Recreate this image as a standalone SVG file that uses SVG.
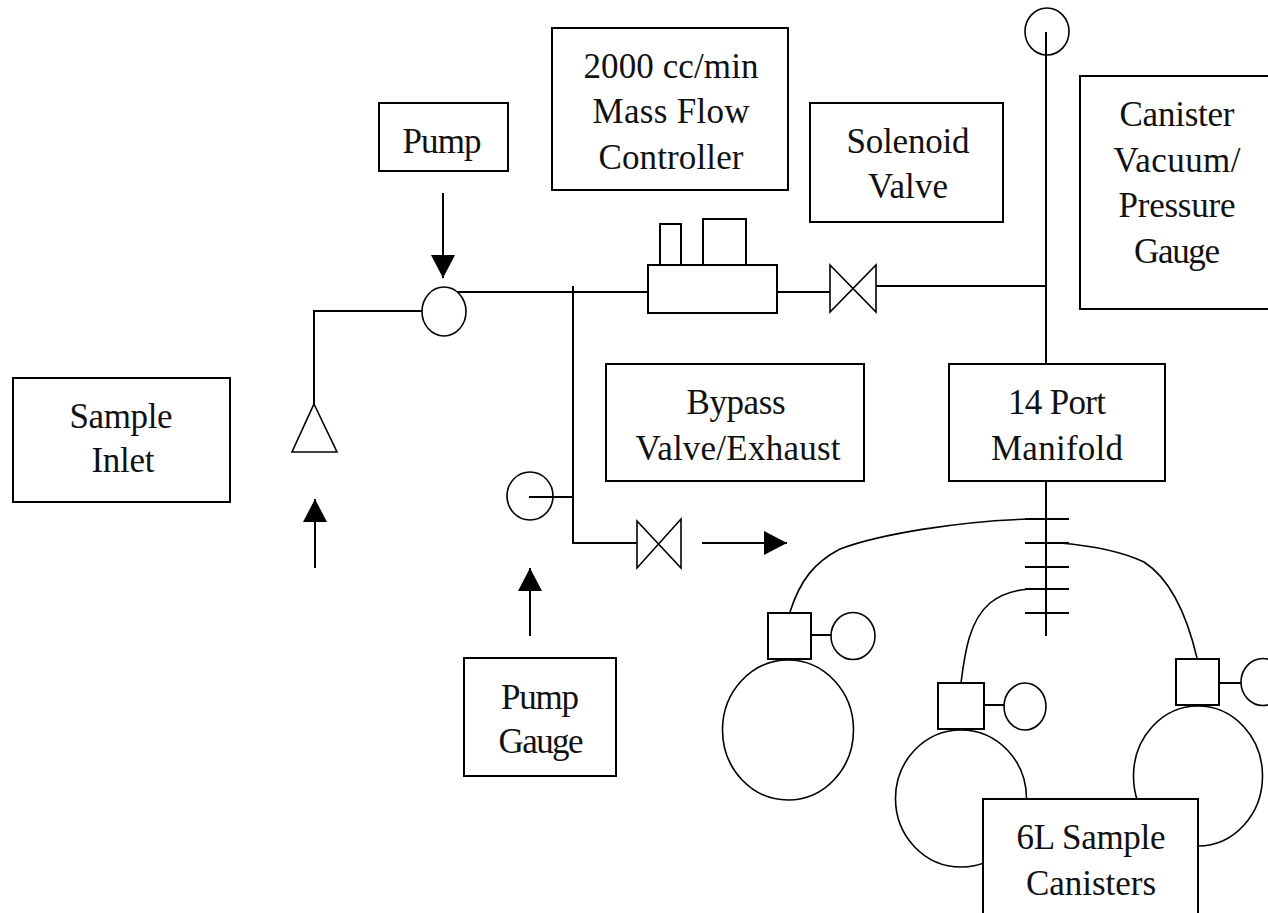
<svg xmlns="http://www.w3.org/2000/svg" width="1268" height="913" viewBox="0 0 1268 913">
<style>
.b{fill:#fff;stroke:#000;stroke-width:2}
.c{fill:#fff;stroke:#000;stroke-width:1.6}
.o{fill:none;stroke:#000;stroke-width:1.6}
.l{fill:none;stroke:#000;stroke-width:2}
.t{font-family:"Liberation Serif",serif;font-size:35px;fill:#111;text-anchor:middle}
</style>
<defs><marker id="a" markerUnits="userSpaceOnUse" markerWidth="24" markerHeight="24" refX="23" refY="12" orient="auto"><path d="M0 0L23 12L0 24Z" fill="#000"/></marker></defs>
<rect width="1268" height="913" fill="#fff"/>
<g id="connectors">
<path class="l" d="M1046 32V364"/>
<path class="l" d="M314 404V311H422"/>
<path class="l" d="M457 292H648"/>
<path class="l" d="M573 286V543H637"/>
<path class="l" d="M529 497H573"/>
<path class="l" d="M777 292H830"/>
<path class="l" d="M876 286H1046"/>
<path class="l" d="M1046 481V636"/>
<path class="l" d="M1025 519H1069M1025 543H1069M1025 567H1069M1025 589H1069M1025 613H1069"/>
<path class="o" d="M790 612C800 580 815 562 840 549C880 534 960 521 1030 519"/>
<path class="o" d="M961 683C965 650 970 620 990 603C1000 595 1012 590 1030 589"/>
<path class="o" d="M1060 543C1095 546 1125 553 1144 562C1172 580 1188 620 1197 658"/>
<path class="l" d="M811 635H831M984 705H1004M1219 683H1241"/>
<path class="l" marker-end="url(#a)" d="M443 193V278"/>
<path class="l" marker-end="url(#a)" d="M315 568V499"/>
<path class="l" marker-end="url(#a)" d="M530 636V568"/>
<path class="l" marker-end="url(#a)" d="M702 543H787"/>
</g>
<g id="pump-label"><rect class="b" x="379" y="103" width="129" height="68"/><text class="t" x="442" y="153" textLength="79">Pump</text></g>
<g id="mfc-label"><rect class="b" x="552" y="28" width="236" height="162"/><text class="t" x="671" y="78" textLength="175">2000 cc/min</text><text class="t" x="671" y="123" textLength="157">Mass Flow</text><text class="t" x="671" y="169" textLength="145">Controller</text></g>
<g id="solenoid-label"><rect class="b" x="810" y="103" width="193" height="119"/><text class="t" x="908" y="153" textLength="123">Solenoid</text><text class="t" x="908" y="198" textLength="80">Valve</text></g>
<g id="gauge-label"><rect class="b" x="1080" y="76" width="191" height="233"/><text class="t" x="1177" y="126" textLength="115">Canister</text><text class="t" x="1177" y="172" textLength="127">Vacuum/</text><text class="t" x="1177" y="217" textLength="117">Pressure</text><text class="t" x="1177" y="263" textLength="86">Gauge</text></g>
<g id="inlet-label"><rect class="b" x="13" y="378" width="217" height="124"/><text class="t" x="121" y="428" textLength="103">Sample</text><text class="t" x="123" y="472" textLength="63">Inlet</text></g>
<g id="bypass-label"><rect class="b" x="606" y="364" width="258" height="117"/><text class="t" x="736" y="414" textLength="99">Bypass</text><text class="t" x="738" y="460" textLength="205">Valve/Exhaust</text></g>
<g id="manifold-label"><rect class="b" x="949" y="364" width="216" height="117"/><text class="t" x="1057" y="414" textLength="98">14 Port</text><text class="t" x="1057" y="460" textLength="132">Manifold</text></g>
<g id="pump-gauge-label"><rect class="b" x="464" y="658" width="152" height="118"/><text class="t" x="540" y="709" textLength="78">Pump</text><text class="t" x="541" y="753" textLength="85">Gauge</text></g>
<g id="top-gauge"><ellipse class="o" cx="1047" cy="31.500" rx="22" ry="23.500"/></g>
<g id="pump-node"><ellipse class="c" cx="444" cy="311.500" rx="22" ry="24.500"/></g>
<g id="pump-gauge"><ellipse class="o" cx="530" cy="496" rx="23" ry="24"/></g>
<g id="filter"><path class="c" d="M314 404L337 452H292Z"/></g>
<g id="mfc"><rect class="b" x="660" y="224" width="21" height="41"/><rect class="b" x="703" y="219" width="43" height="46"/><rect class="b" x="648" y="265" width="129" height="48"/></g>
<g id="solenoid-valve"><path class="c" d="M830 265L876 312V265L830 312Z"/></g>
<g id="bypass-valve"><path class="c" d="M637 521L681 568V519L637 568Z"/></g>
<g id="canister-1"><ellipse class="c" cx="788" cy="730" rx="65.500" ry="70"/><rect class="b" x="768" y="613" width="43" height="46"/><ellipse class="c" cx="853" cy="636" rx="22" ry="23.500"/></g>
<g id="canister-2"><ellipse class="c" cx="961" cy="798.500" rx="65.500" ry="68.500"/><rect class="b" x="938" y="683" width="46" height="46"/><ellipse class="c" cx="1025" cy="706.500" rx="21" ry="23.500"/></g>
<g id="canister-3"><ellipse class="c" cx="1198" cy="776" rx="64.500" ry="70"/><rect class="b" x="1176" y="659" width="43" height="46"/><ellipse class="c" cx="1263" cy="682" rx="22" ry="23.500"/></g>
<g id="canisters-label"><rect class="b" x="983" y="799" width="215" height="120"/><text class="t" x="1091" y="849" textLength="149">6L Sample</text><text class="t" x="1091" y="895" textLength="130">Canisters</text></g>
</svg>
